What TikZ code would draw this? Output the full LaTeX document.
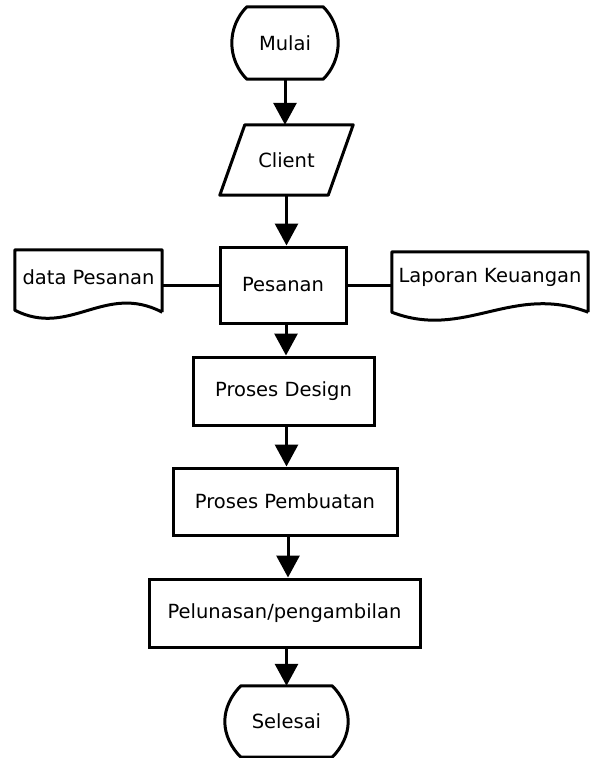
\documentclass[tikz,border=0pt]{standalone}
\usepackage{fontspec}
\setmainfont{DejaVu Sans}
\usetikzlibrary{arrows.meta,calc}
\tikzset{
  every node/.style={font=\fontsize{19.5}{22}\selectfont},
  lw/.style={line width=3pt, line join=round},
  ghost/.style={rectangle, inner sep=0pt},
  procbox/.style={rectangle, draw, line width=3pt, inner sep=0pt},
  arr/.style={line width=3pt, -{Triangle[width=23pt,length=22pt]}},
  link/.style={line width=3pt},
}
\newcommand\myterm[2]{%
  \draw[lw] ($(#1.north west)+(#2,0)$) -- ($(#1.north east)+(-#2,0)$)
    .. controls ($(#1.north east)+(-#2+9.5,9.5)$) and ($(#1.east)+(0,-13.5)$) .. (#1.east)
    .. controls ($(#1.east)+(0,13.5)$) and ($(#1.south east)+(-#2+9.5,-9.5)$) .. ($(#1.south east)+(-#2,0)$)
    -- ($(#1.south west)+(#2,0)$)
    .. controls ($(#1.south west)+(#2-9.5,-9.5)$) and ($(#1.west)+(0,13.5)$) .. (#1.west)
    .. controls ($(#1.west)+(0,-13.5)$) and ($(#1.north west)+(#2-9.5,9.5)$) .. cycle;}
\begin{document}
\begin{tikzpicture}[x=1pt,y=-1pt]
\useasboundingbox (0,0) rectangle (590,758);
% terminators
\node[ghost, minimum width=106pt, minimum height=72pt] (mulai) at (285,43) {Mulai};
\myterm{mulai}{15}
% client parallelogram
\node[ghost, minimum width=133pt, minimum height=70pt] (client) at (286.5,160) {Client};
\draw[lw] ($(client.north west)+(25,0)$) -- (client.north east) -- ($(client.south east)+(-25,0)$) -- (client.south west) -- cycle;
% process boxes
\node[procbox, minimum width=126pt, minimum height=76pt] (pesanan) at (283,285) {Pesanan};
\node[procbox, minimum width=181pt, minimum height=68pt] (design) at (283.5,391) {Proses Design};
\node[procbox, minimum width=224pt, minimum height=67pt] (buat) at (285,501.5) {Proses Pembuatan};
\node[procbox, minimum width=271pt, minimum height=68pt] (lunas) at (284.5,613) {Pelunasan/pengambilan};
\node[ghost, minimum width=123pt, minimum height=71pt] (selesai) at (286.5,721.5) {Selesai};
\myterm{selesai}{16}
% documents
\node[ghost, minimum width=147pt, minimum height=62pt] (dp) at (88.5,281) {\raisebox{4pt}[\height][\depth]{data Pesanan}};
\draw[lw] (dp.south east) -- (dp.north east) -- (dp.north west) -- ($(dp.south west)+(0,-2)$)
  .. controls ($(dp.south west)+(55,26)$) and ($(dp.south west)+(90,-30)$) .. (dp.south east);
\node[ghost, minimum width=196pt, minimum height=60pt] (lk) at (490,282) {\raisebox{5pt}[\height][\depth]{Laporan Keuangan}};
\draw[lw] (lk.south east) -- (lk.north east) -- (lk.north west) -- (lk.south west)
  .. controls ($(lk.south west)+(73,28)$) and ($(lk.south west)+(120,-29)$) .. (lk.south east);
% connectors
\draw[link] (pesanan.west) -- (pesanan.west -| dp.east);
\draw[link] (pesanan.east) -- (pesanan.east -| lk.west);
\coordinate (ps) at ([xshift=3pt]pesanan.south);
\coordinate (ds) at ([xshift=3pt]design.south);
\coordinate (bs) at ([xshift=3pt]buat.south);
\coordinate (ls) at ([xshift=2pt]lunas.south);
\draw[arr] (mulai.south) -- (mulai.south |- client.north);
\draw[arr] (client.south) -- (client.south |- pesanan.north);
\draw[arr] (ps) -- (ps |- design.north);
\draw[arr] (ds) -- (ds |- buat.north);
\draw[arr] (bs) -- (bs |- lunas.north);
\draw[arr] (ls) -- (ls |- selesai.north);
\end{tikzpicture}
\end{document}
